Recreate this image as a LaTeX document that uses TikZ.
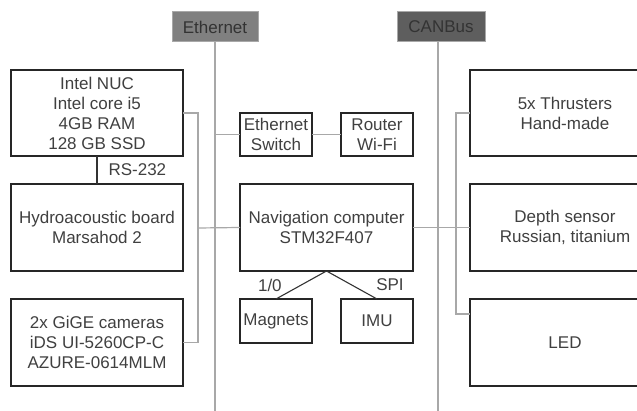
\documentclass[tikz,border=0pt]{standalone}
\usepackage{fontspec}
\setmainfont{Liberation Sans}
\usetikzlibrary{calc}
\definecolor{txtgray}{HTML}{404040}
\definecolor{wiregray}{HTML}{A8A8A8}
\definecolor{ethfill}{HTML}{808080}
\definecolor{canfill}{HTML}{5E5E5E}

\begin{document}
\begin{tikzpicture}[x=1pt,y=-1pt,
    unit/.style={draw=black!85,line width=1.1pt,fill=white,inner sep=0pt,outer sep=0pt,align=center,text=txtgray,font=\fontsize{17}{20}\selectfont},
    busname/.style={unit,draw=wiregray,line width=1pt,text=black!80,minimum width=86,minimum height=30},
    bus/.style={draw=wiregray,line width=2.2pt},
    wire/.style={draw=wiregray,line width=1.2pt},
    link/.style={draw=black!80,line width=1.1pt},
    lbl/.style={inner sep=0pt,text=txtgray,font=\fontsize{17}{20}\selectfont}]
  \clip (0,0) rectangle (637,411);
  % buses
  \node[busname,fill=ethfill] (eth) at (215,27) {Ethernet};
  \node[busname,fill=canfill,minimum width=88] (can) at (441,27) {CANBus};
  \coordinate (ethend) at (215,415);
  \coordinate (canend) at (438,415);
  \path[bus] (eth.south) -- (ethend);
  \path[bus] (canend |- can.south) -- (canend);
  % left column
  \node[unit,minimum width=172,minimum height=86] (nuc) at (97,113) {Intel NUC\\Intel core i5\\4GB RAM\\128 GB SSD};
  \node[unit,minimum width=172,minimum height=87] (hydro) at (97,227.5) {Hydroacoustic board\\Marsahod 2};
  \node[unit,minimum width=172,minimum height=87] (cams) at (97,342.5) {2x GiGE cameras\\iDS UI-5260CP-C\\AZURE-0614MLM};
  % middle column
  \node[unit,minimum width=72,minimum height=43] (switch) at (276,134.5) {Ethernet\\Switch};
  \node[unit,minimum width=72,minimum height=43] (router) at (377,134.5) {Router\\Wi-Fi};
  \node[unit,minimum width=173,minimum height=87] (nav) at (326.5,227.5) {Navigation computer\\STM32F407};
  \node[unit,minimum width=72,minimum height=44] (mag) at (276,321) {Magnets};
  \node[unit,minimum width=72,minimum height=44] (imu) at (377,321) {IMU};
  % right column
  \node[unit,minimum width=190,minimum height=86] (thr) at (565,113) {5x Thrusters\\Hand-made};
  \node[unit,minimum width=190,minimum height=87] (depth) at (565,227.5) {Depth sensor\\Russian, titanium};
  \node[unit,minimum width=190,minimum height=87] (led) at (565,342.5) {LED};
  \coordinate (ej) at (198,228);
  \coordinate (cj) at (456,228);
  \coordinate (ledin) at ($(led.north west)+(0,15)$);
  \path[wire] (nuc.east) -| (ej) |- (cams.east);
  \path[wire] (ej) -- (nav.west);
  \path[wire] (switch.west -| ethend) -- (switch.west);
  \path[wire] (switch) -- (router);
  \path[wire] (nav.east) -- (depth.west);
  \path[wire] (thr.west) -| (cj) |- (ledin);
  \path[link]
    (nuc.south) edge node[lbl,right=11pt] {RS-232} (hydro.north)
    (nav.south) edge node[lbl,left=19pt] {1/0} (mag.north)
    (nav.south) edge node[lbl,right=24pt] {SPI} (imu.north);
\end{tikzpicture}
\end{document}
